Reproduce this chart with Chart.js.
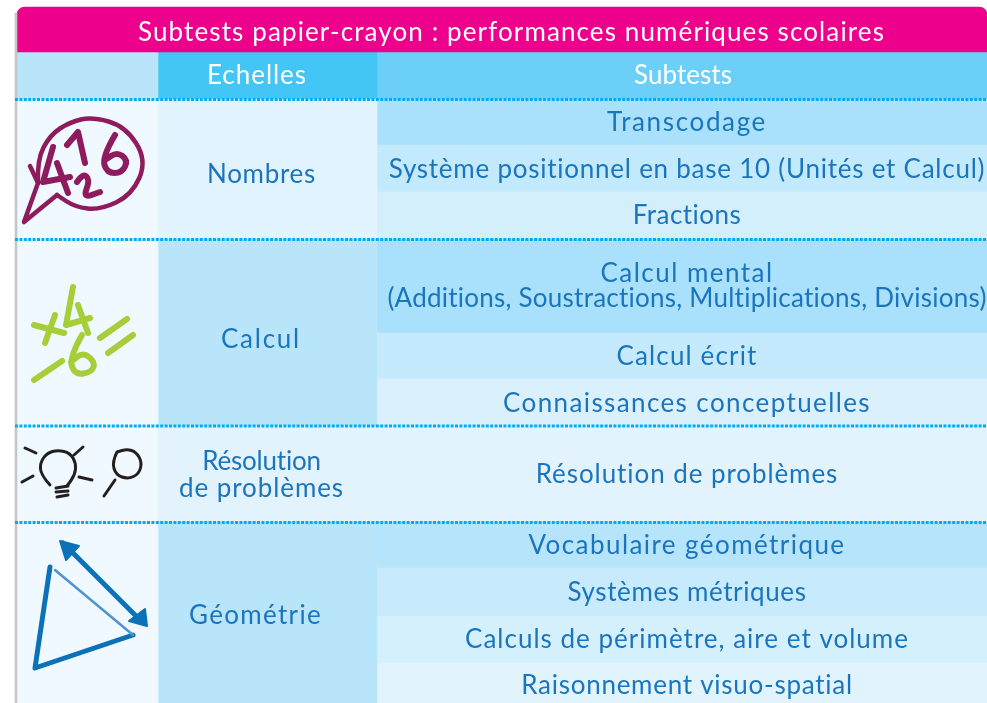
<!DOCTYPE html>
<html>
<head>
<meta charset="utf-8">
<script src="https://cdn.jsdelivr.net/npm/chart.js@4/dist/chart.umd.min.js"></script>
<style>
  html, body { margin: 0; padding: 0; background: #fff; overflow: hidden; }
</style>
</head>
<body>
<canvas id="c" width="987" height="703" style="display:block"></canvas>
<script>
// table structure (x and y in table units)
const title = 'Subtests papier-crayon : performances numériques scolaires';
const headers = ['Echelles', 'Subtests'];
const scales = [['Nombres'], ['Calcul'], ['Résolution', 'de problèmes'], ['Géométrie']];
const subtests = [
  ['Transcodage'],
  ['Système positionnel en base 10 (Unités et Calcul)'],
  ['Fractions'],
  ['Calcul mental', '(Additions, Soustractions, Multiplications, Divisions)'],
  ['Calcul écrit'],
  ['Connaissances conceptuelles'],
  ['Résolution de problèmes'],
  ['Vocabulaire géométrique'],
  ['Systèmes métriques'],
  ['Calculs de périmètre, aire et volume'],
  ['Raisonnement visuo-spatial']
];
const columnEdges = [17, 158, 377, 987];
const titleRow = [7, 52];
const headerRow = [52, 99];
const scaleEdges = [99, 239, 426, 522, 703];
const subtestEdges = [99, 145, 192, 239, 333, 379, 426, 522, 568, 616, 663, 703];
const dottedRules = [99.5, 239.5, 426, 522.5];

const scaleColors = ['#e0f3fe', '#b9e5fb', '#e2f3fd', '#b9e5fb'];
const subtestColors = ['#a9e0fb', '#c3e9fc', '#d3effc', '#a9e0fb', '#c6eafd', '#daf1fd', '#e2f3fd', '#b6e4fb', '#c7eafc', '#d5f0fd', '#e1f4fe'];

// label placement, the font is narrower than the original so each line is fitted to its width
const scaleX = [261.5, 261, 261.5, 255.5];
const scaleY = [175, 340, 475, 616];
const subtestY = [123, 169.5, 215.5, 286, 356.5, 404, 475, 545.5, 593, 639.5, 686];
const titleWidth = 747;
const headerWidths = [100, 98];
const scaleWidths = [[109], [80], [119, 165], [133]];
const subtestWidths = [[160], [597], [109], [173, 601], [141], [368], [303], [317], [239], [444], [332]];

const mid = (a, b) => (a + b) / 2;
const colBar = (i, y0, y1) => ({ x: mid(columnEdges[i], columnEdges[i + 1]), y: [y0, y1] });
const colWidth = i => columnEdges[i + 1] - columnEdges[i];
const base = { type: 'bar', grouped: false, borderWidth: 0, borderSkipped: false, categoryPercentage: 1, barPercentage: 1 };

// hand drawn pictograms, in the same table units. 5 points or more = smoothed
const icons = [
  { color: '#8e1b5e', width: 4.5, lines: [
    [[38,183],[37,160],[50,135],[70,122],[92,117],[125,126],[147,160],[132,195],[100,210],[75,207],[57,195]],
    [[57,195],[24,222],[38,183],[30,166]]
  ] },
  { color: '#8e1b5e', width: 6, lines: [
    [[53,147],[43,182],[70,177]], [[57,163],[68,193]],
    [[67,145],[78,132],[85,163]],
    [[77,182],[83,173],[90,180],[83,198],[100,192]],
    [[115,135],[102,157],[107,173],[122,173],[128,160],[117,152],[105,160]]
  ] },
  { color: '#a6ce39', width: 6, lines: [
    [[34,325],[64,333]], [[55,315],[45,343]],
    [[73,287],[66,325],[90,318]], [[78,305],[88,333]],
    [[34,380],[62,361]],
    [[82,335],[69,358],[75,375],[92,372],[95,362],[83,352],[71,362]],
    [[100,338],[127,319]], [[108,353],[133,335]]
  ] },
  { color: '#231f20', width: 3, lines: [
    [[50,485],[41,475],[40,463],[47,453],[58,450],[70,453],[76,463],[75,475],[67,486]],
    [[56,488],[68,486]], [[56,492],[68,491]], [[57,497],[68,495]],
    [[25,448],[36,453]], [[74,455],[83,447]], [[22,482],[33,476]], [[79,477],[92,480]],
    [[117,452],[112,462],[116,475],[128,479],[139,474],[142,462],[136,452],[127,449],[117,452]],
    [[115,480],[104,496]]
  ] },
  { color: '#0b72b9', width: 5, lines: [
    [[50,567],[35,668],[133,635]],
    [[63,543],[143,623]]
  ] },
  { color: '#0b72b9', width: 2, fill: true, lines: [
    [[60,541],[79,546],[66,560],[60,541]],
    [[147,626],[145,609],[129,621],[147,626]]
  ] },
  { color: '#4f93cf', width: 2.5, lines: [[[133,635],[55,570]]] }
];

const fontName = 'Lato';
const fontSize = 26;
const blue = '#1b75bc';

const tableText = {
  id: 'tableText',
  afterDatasetsDraw(chart) {
    const { ctx, scales: { x, y } } = chart;
    ctx.save();
    // pictograms
    ctx.lineCap = 'round';
    ctx.lineJoin = 'round';
    icons.forEach(ic => {
      ctx.strokeStyle = ic.color;
      ctx.fillStyle = ic.color;
      ctx.lineWidth = ic.width;
      ic.lines.forEach(l => {
        const pts = l.map(p => [x.getPixelForValue(p[0]), y.getPixelForValue(p[1])]);
        ctx.beginPath();
        ctx.moveTo(pts[0][0], pts[0][1]);
        if (pts.length >= 5) {
          for (let i = 1; i < pts.length - 1; i++) {
            ctx.quadraticCurveTo(pts[i][0], pts[i][1], mid(pts[i][0], pts[i + 1][0]), mid(pts[i][1], pts[i + 1][1]));
          }
          ctx.lineTo(pts[pts.length - 1][0], pts[pts.length - 1][1]);
        } else {
          pts.slice(1).forEach(p => ctx.lineTo(p[0], p[1]));
        }
        if (ic.fill) ctx.fill();
        ctx.stroke();
      });
    });
    // labels
    ctx.textAlign = 'center';
    ctx.textBaseline = 'middle';
    ctx.font = fontSize + 'px ' + fontName;
    const put = (lines, widths, cx, cy, color, gap) => {
      ctx.fillStyle = color;
      lines.forEach((t, i) => {
        ctx.letterSpacing = '0px';
        const spare = widths[i] - ctx.measureText(t).width;
        ctx.letterSpacing = (spare / t.length) + 'px';
        const off = (i - (lines.length - 1) / 2) * gap;
        ctx.fillText(t, x.getPixelForValue(cx), y.getPixelForValue(cy + off));
      });
    };
    put([title], [titleWidth], 511.5, 33, '#fff', 0);
    put([headers[0]], [headerWidths[0]], 257, 76, '#fff', 0);
    put([headers[1]], [headerWidths[1]], 683, 76, '#fff', 0);
    scales.forEach((s, i) => put(s, scaleWidths[i], scaleX[i], scaleY[i], blue, 27));
    subtests.forEach((s, i) => put(s, subtestWidths[i], 687, subtestY[i], blue, 25));
    ctx.restore();
  }
};

new Chart(document.getElementById('c'), {
  data: {
    datasets: [
      { ...base, label: 'titre', backgroundColor: '#ec008c', borderRadius: { topLeft: 8, topRight: 8 },
        barThickness: columnEdges[3] - columnEdges[0],
        data: [{ x: mid(columnEdges[0], columnEdges[3]), y: titleRow }] },
      { ...base, label: 'icones', barThickness: colWidth(0),
        backgroundColor: ['#b9e5fb', '#f0f9ff'],
        data: [colBar(0, headerRow[0], headerRow[1]), colBar(0, headerRow[1], 703)] },
      { ...base, label: 'echelles', barThickness: colWidth(1),
        backgroundColor: ['#43c5f5', ...scaleColors],
        data: [colBar(1, headerRow[0], headerRow[1]), ...scales.map((s, i) => colBar(1, scaleEdges[i], scaleEdges[i + 1]))] },
      { ...base, label: 'subtests', barThickness: colWidth(2),
        backgroundColor: ['#6ccff7', ...subtestColors],
        data: [colBar(2, headerRow[0], headerRow[1]), ...subtests.map((s, i) => colBar(2, subtestEdges[i], subtestEdges[i + 1]))] },
      { type: 'bar', label: 'bord', order: -1, barThickness: 2, backgroundColor: '#c4c6c9', borderWidth: 0, grouped: false,
        data: [{ x: 16, y: [titleRow[0] + 6, 703] }] },
      ...dottedRules.map(r => ({
        type: 'line', label: 'regle', order: -2, borderColor: '#00aeef', borderWidth: 3, borderDash: [3, 1.4], pointRadius: 0,
        data: [{ x: 15, y: r }, { x: 987, y: r }]
      }))
    ]
  },
  options: {
    responsive: false,
    animation: false,
    layout: { padding: 0 },
    plugins: { legend: { display: false }, tooltip: { enabled: false }, title: { display: false } },
    scales: {
      x: { type: 'linear', min: 0, max: 987, display: false, offset: false },
      y: { type: 'linear', min: 0, max: 703, reverse: true, display: false }
    }
  },
  plugins: [tableText]
});
</script>
</body>
</html>
